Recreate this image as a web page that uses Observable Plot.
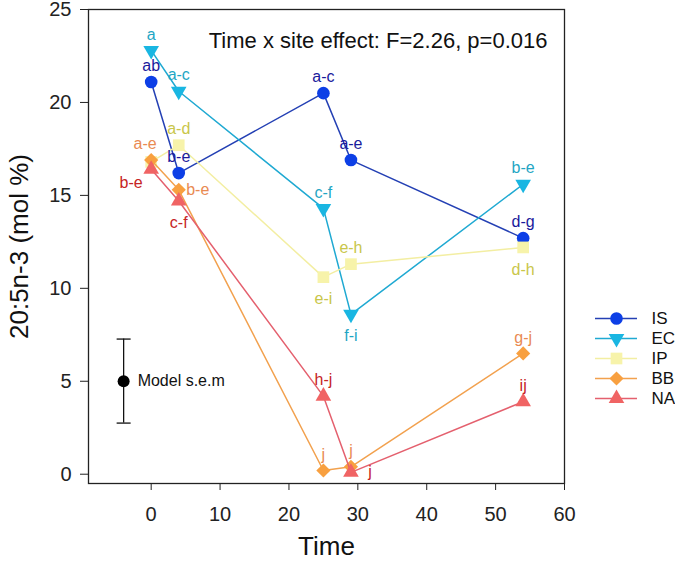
<!DOCTYPE html>
<html>
<head>
<meta charset="utf-8">
<script src="https://cdn.jsdelivr.net/npm/d3@7"></script>
<script src="https://cdn.jsdelivr.net/npm/@observablehq/plot@0.6"></script>
<style>
  body { margin: 0; background: #fff; }
  #wrap { position: relative; width: 675px; height: 569px; overflow: hidden; font-family: "Liberation Sans", Arial, sans-serif; }
  #legend { position: absolute; left: 590px; top: 299px; }
  svg { overflow: visible; }
</style>
</head>
<body>
<div id="wrap"><div id="main"></div><div id="legend"></div></div>
<script>
// ---- data ----
const times = [0, 4, 25, 29, 54];
const sites = ["IS", "EC", "IP", "BB", "NA"];
const valuesIS = [21.1, 16.2, 20.5, 16.9, 12.7];
const valuesEC = [22.8, 20.6, 14.3, 8.6, 15.6];
const valuesIP = [16.8, 17.7, 10.6, 11.3, 12.2];
const valuesBB = [16.9, 15.3, 0.2, 0.4, 6.5];
const valuesNA = [16.4, 14.7, 4.2, 0.1, 3.9];
const lettersIS = ["ab", "b-e", "a-c", "a-e", "d-g"];
const lettersEC = ["a", "a-c", "c-f", "f-i", "b-e"];
const lettersIP = ["", "a-d", "e-i", "e-h", "d-h"];
const lettersBB = ["a-e", "b-e", "j", "j", "g-j"];
const lettersNA = ["b-e", "c-f", "h-j", "j", "ij"];
// label placement relative to its point
const placeIS = ["top", "top", "top", "top", "top"];
const placeEC = ["top", "top", "top", "bottom", "top"];
const placeIP = ["top", "top", "bottom", "top", "bottom"];
const placeBB = ["topleft", "right", "top", "top", "top"];
const placeNA = ["bottomleft", "bottom", "top", "right", "top"];
const xTicks = [0, 10, 20, 30, 40, 50, 60];
const yTicks = [0, 5, 10, 15, 20, 25];
const semTime = -4;
const semMean = 5.0;
const semLow = 2.75;
const semHigh = 7.27;
const annotation = "Time x site effect: F=2.26, p=0.016";
const semLabel = "Model s.e.m";
const xTitle = "Time";
const yTitle = "20:5n-3 (mol %)";

// ---- styles ----
const font = "Liberation Sans, Arial, sans-serif";
const sq3 = Math.sqrt(3);
const triangleDown = {
  draw(context, size) {
    const y = -Math.sqrt(size / (sq3 * 3));
    context.moveTo(0, -y * 2);
    context.lineTo(-sq3 * y, y);
    context.lineTo(sq3 * y, y);
    context.closePath();
  }
};
const capSymbol = {
  draw(context, size) { context.moveTo(-7, 0); context.lineTo(7, 0); }
};
const style = {
  IS: {line: "#2440b4", fill: "#0d3fe6", text: "#1a1a9c", symbol: "circle", r: 6.3},
  EC: {line: "#1fa9d2", fill: "#19b6e2", text: "#1fa6c4", symbol: triangleDown, r: 5.8},
  IP: {line: "#f3eea2", fill: "#f7f3aa", text: "#c9c64a", symbol: "square", r: 6.6},
  BB: {line: "#f2a14e", fill: "#f8a040", text: "#e98a52", symbol: "diamond2", r: 6.4},
  NA: {line: "#e4606e", fill: "#f06464", text: "#c62424", symbol: "triangle", r: 5.8}
};
const offsets = {
  top: [0, -16], bottom: [0, 22], topleft: [-6, -16],
  right: [19, 0], bottomleft: [-20, 14]
};

const seriesValues = {IS: valuesIS, EC: valuesEC, IP: valuesIP, BB: valuesBB, NA: valuesNA};
const seriesLetters = {IS: lettersIS, EC: lettersEC, IP: lettersIP, BB: lettersBB, NA: lettersNA};
const seriesPlace = {IS: placeIS, EC: placeEC, IP: placeIP, BB: placeBB, NA: placeNA};

const rows = [];
for (const s of sites) {
  times.forEach((t, i) => rows.push({site: s, t, v: seriesValues[s][i], label: seriesLetters[s][i], place: seriesPlace[s][i]}));
}

const seriesMarks = [];
for (const s of sites) {
  const d = rows.filter(r => r.site === s);
  const st = style[s];
  seriesMarks.push(Plot.line(d, {x: "t", y: "v", stroke: st.line, strokeWidth: 1.5}));
  seriesMarks.push(Plot.dot(d, {x: "t", y: "v", symbol: st.symbol, r: st.r, fill: st.fill, stroke: "none"}));
}
const labelMarks = [];
for (const s of sites) {
  for (const p of Object.keys(offsets)) {
    const d = rows.filter(r => r.site === s && r.place === p && r.label);
    if (!d.length) continue;
    labelMarks.push(Plot.text(d, {x: "t", y: "v", text: "label", dx: offsets[p][0], dy: offsets[p][1],
      fill: style[s].text, fontSize: 16}));
  }
}

const main = Plot.plot({
  width: 675, height: 569,
  marginLeft: 88, marginRight: 111, marginTop: 9, marginBottom: 86,
  style: {fontFamily: font, background: "#fff", color: "#222"},
  x: {domain: [-9.1, 60]},
  y: {domain: [-0.5, 25]},
  marks: [
    Plot.frame({stroke: "#222", strokeWidth: 1.3}),
    Plot.axisX({ticks: xTicks, tickSize: 7, tickPadding: 16, fontSize: 20, label: null, stroke: "#222"}),
    Plot.axisY({ticks: yTicks, tickSize: 8, tickPadding: 9, fontSize: 20, label: null, stroke: "#222"}),
    Plot.text([xTitle], {frameAnchor: "bottom", lineAnchor: "middle", textAnchor: "middle", dy: 63, fontSize: 26, fill: "#111"}),
    Plot.text([yTitle], {frameAnchor: "left", lineAnchor: "middle", textAnchor: "middle", dx: -69, dy: 0, rotate: -90, fontSize: 26, fill: "#111"}),
    Plot.text([annotation], {frameAnchor: "top-right", lineAnchor: "middle", dx: -17, dy: 31, fontSize: 22, fill: "#111", textAnchor: "end"}),
    Plot.ruleX([{x: semTime, y1: semLow, y2: semHigh}], {x: "x", y1: "y1", y2: "y2", stroke: "#111", strokeWidth: 1.3}),
    Plot.dot([semLow, semHigh], {x: () => semTime, y: d => d, symbol: capSymbol, stroke: "#111", strokeWidth: 1.3, r: 3}),
    Plot.dot([semMean], {x: () => semTime, y: d => d, r: 6, fill: "#000"}),
    Plot.text([semLabel], {x: () => semTime, y: () => semMean, dx: 14, textAnchor: "start", fontSize: 16, fill: "#111"}),
    ...seriesMarks,
    ...labelMarks
  ]
});
document.getElementById("main").append(main);

// ---- legend ----
const legendRows = sites.map(s => ({site: s}));
const legend = Plot.plot({
  width: 85, height: 110,
  marginLeft: 5, marginRight: 38, marginTop: 19, marginBottom: 11,
  style: {fontFamily: font, background: "transparent"},
  x: {domain: [0, 1], axis: null},
  y: {domain: sites, type: "point", padding: 0, axis: null},
  marks: [
    ...sites.map(s => Plot.ruleY([s], {x1: 0, x2: 1, y: d => d, stroke: style[s].line, strokeWidth: 1.5})),
    ...sites.map(s => Plot.dot([s], {x: () => 0.5, y: d => d, symbol: style[s].symbol, r: style[s].r, fill: style[s].fill, stroke: "none"})),
    Plot.text(legendRows, {x: () => 1, y: "site", text: "site", dx: 14, textAnchor: "start", fontSize: 17, fill: "#111"})
  ]
});
document.getElementById("legend").append(legend);
</script>
</body>
</html>
